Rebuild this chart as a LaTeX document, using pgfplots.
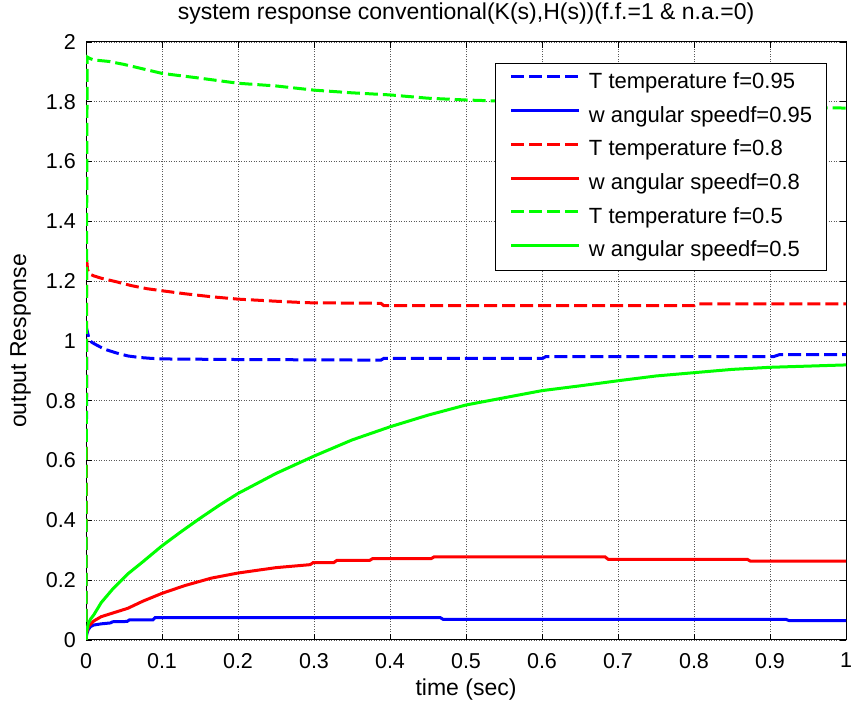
\documentclass[border=0pt]{standalone}
\usepackage{fontspec}
\setmainfont{Liberation Sans}
\usepackage{pgfplots}
\pgfplotsset{compat=1.18}
\usepackage{pgfplotstable}
\definecolor{mblue}{RGB}{0,0,255}
\definecolor{mred}{RGB}{255,0,0}
\definecolor{mgreen}{RGB}{0,255,0}

\pgfplotstableread{
x y
0 0
0.0005 0.6
0.001 1.04
0.002 1.03
0.004 1.005
0.008 0.995
0.015 0.985
0.025 0.972
0.04 0.96
0.055 0.95
0.07 0.945
0.085 0.942
0.1 0.94
0.2 0.938
0.3 0.937
0.388 0.936
0.392 0.942
0.601 0.942
0.605 0.948
0.905 0.948
0.912 0.954
1 0.954
}\Tb
\pgfplotstableread{
x y
0 0
0.001 0.02
0.003 0.035
0.006 0.045
0.01 0.05
0.02 0.054
0.032 0.057
0.035 0.061
0.054 0.062
0.057 0.067
0.088 0.067
0.091 0.075
0.466 0.075
0.47 0.069
0.921 0.069
0.925 0.065
1 0.065
}\Wb
\pgfplotstableread{
x y
0 0
0.0005 0.6
0.001 1.27
0.002 1.24
0.004 1.225
0.01 1.218
0.02 1.21
0.04 1.198
0.06 1.185
0.08 1.175
0.1 1.168
0.13 1.158
0.165 1.148
0.2 1.14
0.25 1.133
0.29 1.128
0.388 1.126
0.392 1.118
0.80 1.118
0.803 1.124
1 1.124
}\Tr
\pgfplotstableread{
x y
0 0
0.001 0.025
0.003 0.045
0.0105 0.064
0.02 0.078
0.035 0.09
0.055 0.106
0.075 0.13
0.1 0.156
0.13 0.182
0.165 0.207
0.2 0.224
0.25 0.242
0.295 0.252
0.299 0.259
0.326 0.259
0.33 0.266
0.373 0.266
0.377 0.272
0.454 0.272
0.458 0.278
0.683 0.278
0.687 0.27
0.87 0.27
0.874 0.264
1 0.264
}\Wr
\pgfplotstableread{
x y
0 0
0.0005 1.0
0.0015 1.95
0.005 1.945
0.01 1.94
0.03 1.935
0.05 1.925
0.075 1.91
0.1 1.895
0.15 1.879
0.2 1.862
0.25 1.853
0.3 1.839
0.35 1.83
0.4 1.823
0.45 1.812
0.5 1.806
0.55 1.802
0.6 1.798
0.7 1.792
0.8 1.787
0.9 1.783
1 1.779
}\Tg
\pgfplotstableread{
x y
0 0
0.001 0.03
0.003 0.055
0.006 0.07
0.0105 0.085
0.02 0.125
0.035 0.17
0.055 0.221
0.075 0.262
0.1 0.315
0.125 0.362
0.15 0.407
0.175 0.45
0.2 0.49
0.25 0.557
0.3 0.615
0.35 0.669
0.4 0.713
0.45 0.752
0.5 0.786
0.55 0.81
0.6 0.834
0.65 0.85
0.7 0.867
0.75 0.883
0.8 0.894
0.85 0.905
0.9 0.912
0.95 0.916
1 0.92
}\Wg

\begin{document}
\begin{tikzpicture}
\begin{axis}[
  scale only axis, width=760bp, height=598bp,
  xmin=0, xmax=1, ymin=0, ymax=2,
  xtick={0,0.1,0.2,0.3,0.4,0.5,0.6,0.7,0.8,0.9,1},
  ytick={0,0.2,0.4,0.6,0.8,1,1.2,1.4,1.6,1.8,2},
  tick align=inside, major tick length=6bp,
  every tick/.style={black, line width=0.8bp},
  axis line style={black, line width=1bp},
  grid=major,
  major grid style={black!65, line width=0.6bp, dash pattern=on 1bp off 1.5bp},
  /pgf/number format/assume math mode=true,
  ticklabel style={font=\fontsize{21.5bp}{25bp}\selectfont},
  xticklabel style={inner sep=0pt, yshift=-13bp},
  yticklabel style={inner sep=0pt, xshift=-10bp},
  title={system response conventional(K(s),H(s))(f.f.=1 \& n.a.=0)},
  title style={at={(axis description cs:0.5,1.0284)}, anchor=base, font=\fontsize{23bp}{27bp}\selectfont, inner sep=0pt},
  xlabel={time (sec)},
  xlabel style={at={(axis description cs:0.5,-0.0936)}, anchor=base, font=\fontsize{23bp}{27bp}\selectfont, inner sep=0pt},
  ylabel={output Response},
  ylabel style={at={(axis description cs:-0.0789,0.5)}, anchor=base, rotate=0, font=\fontsize{23bp}{27bp}\selectfont, inner sep=0pt},
  legend cell align=left,
  legend style={at={(axis description cs:0.9746,0.9649)}, anchor=north east,
    draw=black, line width=1bp, fill=white,
    font=\fontsize{22bp}{26bp}\selectfont,
    inner xsep=14bp, inner ysep=9bp, row sep=12.7bp,
    nodes={inner sep=0pt, text height=16bp, text depth=5bp},
    /tikz/every odd column/.append style={column sep=8bp}},
  legend image code/.code={\draw[#1] (0bp,6bp) -- (68bp,6bp);},
]
\addplot[mblue, line width=3bp, dash pattern=on 13bp off 5bp] table {\Tb};
\addlegendentry{T temperature f=0.95}
\addplot[mblue, line width=3bp] table {\Wb};
\addlegendentry{w angular speedf=0.95}
\addplot[mred, line width=3bp, dash pattern=on 13bp off 5bp] table {\Tr};
\addlegendentry{T temperature f=0.8}
\addplot[mred, line width=3bp] table {\Wr};
\addlegendentry{w angular speedf=0.8}
\addplot[mgreen, line width=3bp, dash pattern=on 13bp off 5bp] table {\Tg};
\addlegendentry{T temperature f=0.5}
\addplot[mgreen, line width=3bp] table {\Wg};
\addlegendentry{w angular speedf=0.5}
\coordinate (bbsw) at (axis description cs:-0.11316,-0.11204);
\coordinate (bbne) at (axis description cs:1.00658,1.07023);
\end{axis}
\pgfresetboundingbox
\path[use as bounding box] (bbsw) rectangle (bbne);
\end{tikzpicture}
\end{document}
